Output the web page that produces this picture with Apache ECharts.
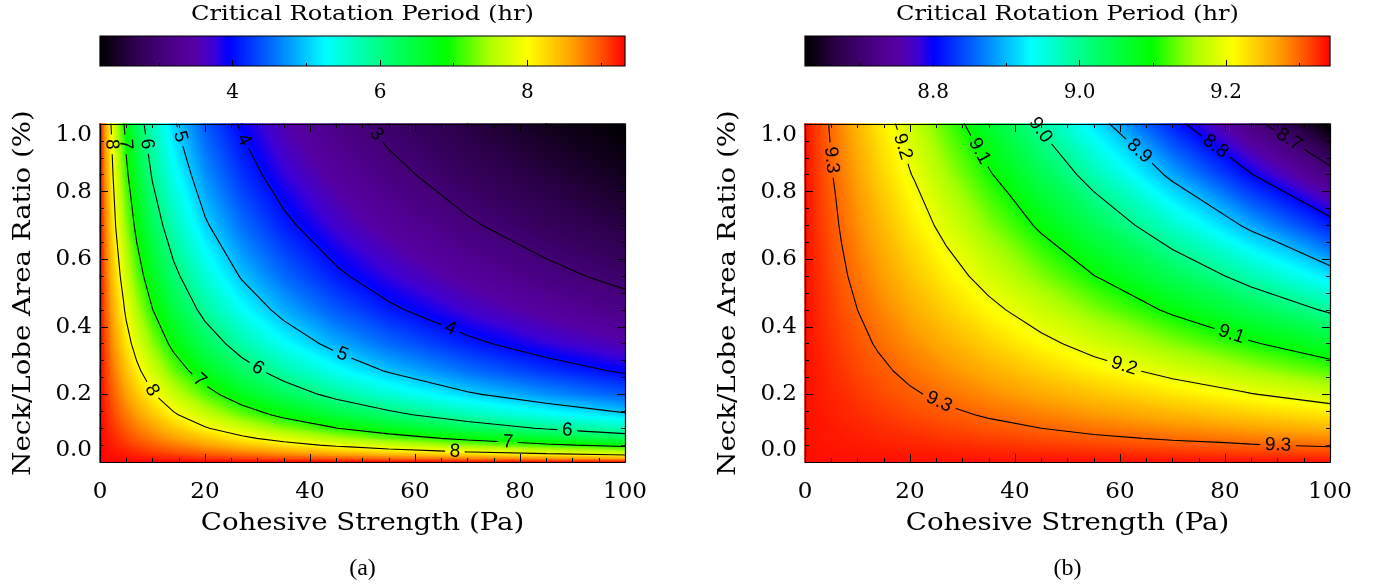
<!DOCTYPE html>
<html>
<head>
<meta charset="utf-8">
<script src="https://cdn.jsdelivr.net/npm/echarts@6/dist/echarts.min.js"></script>
<style>
html,body{margin:0;padding:0;background:#ffffff;}
#chart{width:1385px;height:587px;}
</style>
</head>
<body>
<div id="chart"></div>
<script>
// ---------------- data ----------------
// sample positions
const cohesion  = [0, 1, 2, 3, 5, 7, 10, 14, 20, 27, 35, 45, 55, 70, 85, 100];          // Pa
const areaRatio = [0, 0.01, 0.02, 0.03, 0.05, 0.07, 0.10, 0.14, 0.20, 0.27, 0.35, 0.45, 0.55, 0.70, 0.85, 1.00];

// panel (a): critical rotation period (hr); rows = areaRatio, columns = cohesion
const periodA = [
  [9.31,9.31,9.31,9.31,9.31,9.31,9.31,9.31,9.31,9.31,9.31,9.31,9.31,9.31,9.31,9.31],
  [9.31,9.30,9.29,9.29,9.27,9.25,9.23,9.20,9.15,9.10,9.04,8.97,8.90,8.80,8.70,8.61],
  [9.31,9.29,9.28,9.26,9.23,9.20,9.15,9.10,9.01,8.91,8.80,8.67,8.54,8.37,8.20,8.04],
  [9.31,9.29,9.26,9.24,9.19,9.15,9.08,8.99,8.87,8.73,8.58,8.40,8.23,7.99,7.78,7.58],
  [9.31,9.27,9.23,9.19,9.12,9.04,8.94,8.80,8.61,8.40,8.17,7.92,7.69,7.37,7.09,6.85],
  [9.31,9.25,9.20,9.15,9.04,8.94,8.80,8.62,8.37,8.10,7.82,7.51,7.24,6.88,6.57,6.29],
  [9.31,9.23,9.15,9.08,8.94,8.80,8.61,8.37,8.04,7.71,7.37,7.01,6.69,6.29,5.95,5.67],
  [9.31,9.20,9.10,8.99,8.80,8.62,8.37,8.06,7.66,7.26,6.88,6.47,6.13,5.70,5.36,5.06],
  [9.31,9.15,9.01,8.87,8.61,8.37,8.04,7.66,7.18,6.72,6.29,5.85,5.50,5.06,4.72,4.44],
  [9.31,9.10,8.91,8.73,8.40,8.10,7.71,7.26,6.72,6.22,5.77,5.32,4.96,4.54,4.21,3.94],
  [9.31,9.04,8.80,8.58,8.17,7.82,7.37,6.88,6.29,5.77,5.30,4.86,4.51,4.10,3.78,3.53],
  [9.31,8.97,8.67,8.40,7.92,7.51,7.01,6.47,5.85,5.32,4.86,4.42,4.08,3.69,3.40,3.17],
  [9.31,8.90,8.54,8.23,7.69,7.24,6.69,6.13,5.50,4.96,4.51,4.08,3.76,3.39,3.11,2.89],
  [9.31,8.80,8.37,7.99,7.37,6.88,6.29,5.70,5.06,4.54,4.10,3.69,3.39,3.05,2.79,2.59],
  [9.31,8.70,8.20,7.78,7.09,6.57,5.95,5.36,4.72,4.21,3.78,3.40,3.11,2.79,2.56,2.37],
  [9.31,8.61,8.04,7.58,6.85,6.29,5.67,5.06,4.44,3.94,3.53,3.17,2.89,2.59,2.37,2.20]
];

// panel (b)
const periodB = [
  [9.336,9.336,9.336,9.336,9.336,9.336,9.336,9.336,9.336,9.336,9.336,9.336,9.336,9.336,9.336,9.336],
  [9.336,9.336,9.336,9.336,9.336,9.335,9.335,9.335,9.334,9.334,9.333,9.332,9.332,9.330,9.329,9.328],
  [9.336,9.336,9.336,9.336,9.335,9.335,9.334,9.334,9.333,9.332,9.330,9.329,9.327,9.325,9.322,9.320],
  [9.336,9.336,9.336,9.335,9.335,9.334,9.334,9.333,9.331,9.330,9.328,9.325,9.323,9.319,9.315,9.312],
  [9.336,9.336,9.335,9.335,9.334,9.333,9.332,9.330,9.328,9.325,9.322,9.318,9.314,9.308,9.302,9.296],
  [9.336,9.335,9.335,9.334,9.333,9.332,9.330,9.328,9.325,9.321,9.316,9.311,9.305,9.297,9.288,9.280],
  [9.336,9.335,9.334,9.334,9.332,9.330,9.328,9.325,9.320,9.314,9.308,9.300,9.292,9.280,9.268,9.256],
  [9.336,9.335,9.334,9.333,9.330,9.328,9.325,9.320,9.313,9.306,9.297,9.286,9.274,9.258,9.241,9.225],
  [9.336,9.334,9.333,9.331,9.328,9.325,9.320,9.313,9.304,9.293,9.280,9.264,9.248,9.225,9.202,9.179],
  [9.336,9.334,9.332,9.330,9.325,9.321,9.314,9.306,9.293,9.278,9.261,9.239,9.218,9.187,9.156,9.125],
  [9.336,9.333,9.330,9.328,9.322,9.316,9.308,9.297,9.280,9.261,9.239,9.211,9.184,9.144,9.105,9.066],
  [9.336,9.332,9.329,9.325,9.318,9.311,9.300,9.286,9.264,9.239,9.211,9.177,9.142,9.092,9.042,8.993],
  [9.336,9.332,9.327,9.323,9.314,9.305,9.292,9.274,9.248,9.218,9.184,9.142,9.101,9.040,8.980,8.921],
  [9.336,9.330,9.325,9.319,9.308,9.297,9.280,9.258,9.225,9.187,9.144,9.092,9.040,8.964,8.890,8.817],
  [9.336,9.329,9.322,9.315,9.302,9.288,9.268,9.241,9.202,9.156,9.105,9.042,8.980,8.890,8.802,8.717],
  [9.336,9.328,9.320,9.312,9.296,9.280,9.256,9.225,9.179,9.125,9.066,8.993,8.921,8.817,8.717,8.620]
];

// contour levels and label anchors [level, cohesion, areaRatio]
const levelsA = [3, 4, 5, 6, 7, 8];
const levelsB = [8.7, 8.8, 8.9, 9.0, 9.1, 9.2, 9.3];
const labelsA = [
  [8, 2.2, 0.94], [7, 5.1, 0.94], [6, 8.6, 0.94], [5, 14.7, 0.96], [4, 27, 0.95], [3, 52.4, 0.967],
  [8, 9.9, 0.212], [7, 19, 0.242], [6, 30, 0.277], [5, 46, 0.313], [4, 66.5, 0.387],
  [6, 89, 0.092], [7, 77.7, 0.056], [8, 67.6, 0.030]
];
const labelsB = [
  [9.3, 4.8, 0.893], [9.2, 18.7, 0.933], [9.1, 33, 0.918], [9.0, 42.9, 0.961],
  [8.9, 63.8, 0.922], [8.8, 78.1, 0.932], [8.7, 92.4, 0.958],
  [9.3, 25.7, 0.183], [9.2, 61, 0.295], [9.1, 81.3, 0.381], [9.3, 90.1, 0.049]
];

// colour bars
const cbarRangeA = [2.198, 9.327];
const cbarMajorA = [4, 6, 8];
const cbarMinorA = [3, 5, 7, 9];
const cbarRangeB = [8.625, 9.342];
const cbarMajorB = [8.8, 9.0, 9.2];
const cbarMinorB = [8.7, 8.9, 9.1, 9.3];

// axes ticks
const xTicks = [0, 20, 40, 60, 80, 100];
const yTicks = [0, 0.2, 0.4, 0.6, 0.8, 1.0];

// ---------------- styling ----------------
const CMAP = [
  [0.000, [0, 0, 0]], [0.060, [42, 0, 72]], [0.120, [70, 0, 124]], [0.180, [86, 0, 164]],
  [0.215, [62, 0, 212]], [0.245, [0, 0, 255]], [0.330, [0, 112, 255]], [0.430, [0, 255, 255]],
  [0.550, [0, 255, 112]], [0.660, [0, 255, 0]], [0.740, [168, 255, 0]], [0.815, [255, 255, 0]],
  [0.900, [255, 160, 0]], [0.955, [255, 80, 0]], [1.000, [255, 0, 0]]
];
function cmapT(t) {
  t = Math.max(0, Math.min(1, t));
  for (let k = 1; k < CMAP.length; k++) {
    if (t <= CMAP[k][0]) {
      const a = CMAP[k - 1], b = CMAP[k];
      const f = (t - a[0]) / (b[0] - a[0]);
      const c = a[1].map((x, i) => Math.round(x + f * (b[1][i] - x)));
      return 'rgb(' + c.join(',') + ')';
    }
  }
  return 'rgb(255,0,0)';
}
function colorOf(v, range) { return cmapT((v - range[0]) / (range[1] - range[0])); }

const SERIF = 'DejaVu Serif';
const LABEL_FONT_SIZE = 19;
const LABEL_FONT = LABEL_FONT_SIZE + 'px "Liberation Sans"';

// ---------------- mesh (smooth colour field) ----------------
function tri(a, b, c, va, vb, vc, range) {
  const e1x = b[0] - a[0], e1y = b[1] - a[1], e2x = c[0] - a[0], e2y = c[1] - a[1];
  const d1 = vb - va, d2 = vc - va;
  const det = e1x * e2y - e1y * e2x;
  const vmin = Math.min(va, vb, vc), vmax = Math.max(va, vb, vc);
  let fill;
  if (Math.abs(det) < 1e-9 || vmax - vmin < 1e-9) {
    fill = colorOf(va, range);
  } else {
    const gx = (d1 * e2y - d2 * e1y) / det, gy = (e1x * d2 - e2x * d1) / det;
    const g2 = gx * gx + gy * gy;
    if (g2 < 1e-14) { fill = colorOf(va, range); }
    else {
      const sx = a[0] + (vmin - va) * gx / g2, sy = a[1] + (vmin - va) * gy / g2;
      const ex = a[0] + (vmax - va) * gx / g2, ey = a[1] + (vmax - va) * gy / g2;
      const stops = [];
      const N = 10;
      for (let k = 0; k <= N; k++) {
        const v = vmin + (vmax - vmin) * k / N;
        stops.push({ offset: k / N, color: colorOf(v, range) });
      }
      fill = new echarts.graphic.LinearGradient(sx, sy, ex, ey, stops, true);
    }
  }
  return { type: 'polygon', shape: { points: [a, b, c] }, style: { fill: fill, stroke: fill, lineWidth: 1.5, lineJoin: 'round' }, silent: true };
}

function meshSeries(axisIdx, period, range) {
  const cells = [];
  for (let j = 0; j < areaRatio.length - 1; j++)
    for (let i = 0; i < cohesion.length - 1; i++)
      cells.push([cohesion[i], areaRatio[j], i, j]);
  return {
    type: 'custom', xAxisIndex: axisIdx, yAxisIndex: axisIdx, z: 2, silent: true, animation: false,
    data: cells,
    renderItem: function (params, api) {
      const i = api.value(2), j = api.value(3);
      const P = (ii, jj) => api.coord([cohesion[ii], areaRatio[jj]]);
      const p00 = P(i, j), p10 = P(i + 1, j), p01 = P(i, j + 1), p11 = P(i + 1, j + 1);
      const v00 = period[j][i], v10 = period[j][i + 1], v01 = period[j + 1][i], v11 = period[j + 1][i + 1];
      return { type: 'group', children: [
        tri(p00, p10, p01, v00, v10, v01, range),
        tri(p10, p11, p01, v10, v11, v01, range)
      ] };
    }
  };
}

// ---------------- contours ----------------
function contourSegs(period, L) {
  const segs = [];
  function triSeg(P, V) {
    const pts = [];
    for (let k = 0; k < 3; k++) {
      const a = k, b = (k + 1) % 3;
      const va = V[a] - L, vb = V[b] - L;
      if ((va < 0 && vb >= 0) || (va >= 0 && vb < 0)) {
        const t = va / (va - vb);
        pts.push([P[a][0] + t * (P[b][0] - P[a][0]), P[a][1] + t * (P[b][1] - P[a][1])]);
      }
    }
    if (pts.length === 2) segs.push(pts);
  }
  for (let j = 0; j < areaRatio.length - 1; j++) {
    for (let i = 0; i < cohesion.length - 1; i++) {
      const q00 = [cohesion[i], areaRatio[j]], q10 = [cohesion[i + 1], areaRatio[j]];
      const q01 = [cohesion[i], areaRatio[j + 1]], q11 = [cohesion[i + 1], areaRatio[j + 1]];
      const v00 = period[j][i], v10 = period[j][i + 1], v01 = period[j + 1][i], v11 = period[j + 1][i + 1];
      triSeg([q00, q10, q01], [v00, v10, v01]);
      triSeg([q10, q11, q01], [v10, v11, v01]);
    }
  }
  return segs;
}
function textW(s) { let w = 0; for (const ch of s) w += (ch === '.' ? 0.278 : 0.556) * LABEL_FONT_SIZE; return w; }
function cutPiece(seg, c, r, out) {
  const p = seg[0], q = seg[1];
  const dx = q[0] - p[0], dy = q[1] - p[1];
  const fx = p[0] - c[0], fy = p[1] - c[1];
  const a = dx * dx + dy * dy;
  if (a < 1e-12) { out.push(seg); return; }
  const b = 2 * (fx * dx + fy * dy), cc = fx * fx + fy * fy - r * r;
  const disc = b * b - 4 * a * cc;
  if (disc <= 0) { out.push(seg); return; }
  const sq = Math.sqrt(disc);
  const t1 = (-b - sq) / (2 * a), t2 = (-b + sq) / (2 * a);
  if (t2 <= 0 || t1 >= 1) { out.push(seg); return; }
  const lp = t => [p[0] + t * dx, p[1] + t * dy];
  if (t1 > 0) out.push([p, lp(t1)]);
  if (t2 < 1) out.push([lp(t2), q]);
}
function contourSeries(axisIdx, period, levels, labels, fmt) {
  const segsByLevel = levels.map(L => contourSegs(period, L));
  return {
    type: 'custom', xAxisIndex: axisIdx, yAxisIndex: axisIdx, z: 3, silent: true, animation: false,
    data: levels.map((L, k) => [k, L]),
    renderItem: function (params, api) {
      const k = api.value(0);
      const L = levels[k];
      const segs = segsByLevel[k].map(s => [api.coord(s[0]), api.coord(s[1])]);
      const txt = fmt(L);
      const r = textW(txt) / 2 + 5;
      const children = [];
      const cuts = [];
      labels.filter(lb => Math.abs(lb[0] - L) < 1e-6).forEach(lb => {
        const q = api.coord([lb[1], lb[2]]);
        let best = null, bd = Infinity;
        segs.forEach(s => {
          const a = s[0], b = s[1];
          const dx = b[0] - a[0], dy = b[1] - a[1];
          const l2 = dx * dx + dy * dy;
          if (l2 < 1e-9) return;
          let t = ((q[0] - a[0]) * dx + (q[1] - a[1]) * dy) / l2;
          t = Math.max(0, Math.min(1, t));
          const px = a[0] + t * dx, py = a[1] + t * dy;
          const d = (px - q[0]) * (px - q[0]) + (py - q[1]) * (py - q[1]);
          if (d < bd) { bd = d; best = { x: px, y: py, dx: dx, dy: dy }; }
        });
        if (!best) return;
        let tx = best.dx, ty = best.dy;
        if (tx < 0 || (Math.abs(tx) < 1e-6 && ty < 0)) { tx = -tx; ty = -ty; }
        const ang = -Math.atan2(ty, tx);
        cuts.push([best.x, best.y]);
        children.push({
          type: 'text', x: best.x, y: best.y, rotation: ang, z2: 5,
          style: { text: txt, font: LABEL_FONT, fill: '#000', align: 'center', verticalAlign: 'middle', textAlign: 'center', textVerticalAlign: 'middle' }
        });
      });
      let path = '';
      segs.forEach(s => {
        let pieces = [s];
        cuts.forEach(c => { const np = []; pieces.forEach(p => cutPiece(p, c, r, np)); pieces = np; });
        pieces.forEach(p => {
          path += 'M' + p[0][0].toFixed(2) + ' ' + p[0][1].toFixed(2) + 'L' + p[1][0].toFixed(2) + ' ' + p[1][1].toFixed(2);
        });
      });
      if (path) children.unshift({ type: 'path', shape: { pathData: path }, style: { fill: 'none', stroke: '#000', lineWidth: 1.1, lineCap: 'round', lineJoin: 'round' } });
      return { type: 'group', children: children };
    }
  };
}

// ---------------- colour bar ----------------
function cbarSeries(xIdx, yIdx, range) {
  return {
    type: 'custom', xAxisIndex: xIdx, yAxisIndex: yIdx, z: 2, silent: true, animation: false,
    data: [[range[0], 0, range[1], 1]],
    renderItem: function (params, api) {
      const p0 = api.coord([api.value(0), api.value(1)]);
      const p1 = api.coord([api.value(2), api.value(3)]);
      const stops = CMAP.map(s => ({ offset: s[0], color: 'rgb(' + s[1].join(',') + ')' }));
      const grad = new echarts.graphic.LinearGradient(0, 0, 1, 0, stops, false);
      const rect = { x: p0[0], y: p1[1], width: p1[0] - p0[0], height: p0[1] - p1[1] };
      return { type: 'group', children: [
        { type: 'rect', shape: rect, style: { fill: grad } },
        { type: 'rect', shape: rect, style: { fill: 'none', stroke: '#000', lineWidth: 1.2 } }
      ] };
    }
  };
}

// ---------------- axes ----------------
const lineBlack = { color: '#000', width: 1.2 };
function xAx(gridIndex, pos, showLabel) {
  return {
    type: 'value', gridIndex: gridIndex, position: pos, min: xTicks[0], max: xTicks[xTicks.length - 1],
    interval: xTicks[1] - xTicks[0], z: 10,
    axisLine: { show: true, onZero: false, lineStyle: lineBlack },
    axisTick: { show: true, inside: true, length: 8, lineStyle: { color: '#000', width: 1 } },
    minorTick: { show: true, splitNumber: 4, length: 4, lineStyle: { color: '#000', width: 1 } },
    splitLine: { show: false }, minorSplitLine: { show: false },
    axisLabel: { show: showLabel, margin: 19, fontFamily: SERIF, fontSize: 23, color: '#000', showMinLabel: true, showMaxLabel: true }
  };
}
function yAx(gridIndex, pos, showLabel) {
  return {
    type: 'value', gridIndex: gridIndex, position: pos, min: yTicks[0], max: yTicks[yTicks.length - 1],
    interval: yTicks[1] - yTicks[0], z: 10,
    axisLine: { show: true, onZero: false, lineStyle: lineBlack },
    axisTick: { show: true, inside: true, length: 8, lineStyle: { color: '#000', width: 1 } },
    minorTick: { show: true, splitNumber: 4, length: 4, lineStyle: { color: '#000', width: 1 } },
    splitLine: { show: false }, minorSplitLine: { show: false },
    axisLabel: {
      show: showLabel, margin: 8, fontFamily: SERIF, fontSize: 23, color: '#000',
      showMinLabel: true, showMaxLabel: true,
      verticalAlignMinLabel: 'bottom', verticalAlignMaxLabel: 'top',
      formatter: v => v.toFixed(1)
    }
  };
}
function cbAx(gridIndex, range, values, major, fmt) {
  return {
    type: 'value', gridIndex: gridIndex, position: 'bottom', min: range[0], max: range[1], z: 10,
    axisLine: { show: false }, splitLine: { show: false },
    axisTick: { show: true, inside: true, length: major ? 6 : 3, customValues: values, lineStyle: { color: '#000', width: 1 } },
    axisLabel: { show: major, customValues: values, margin: 17, fontFamily: SERIF, fontSize: 20, color: '#000', formatter: fmt }
  };
}
function hiddenY(gridIndex) {
  return { type: 'value', gridIndex: gridIndex, min: 0, max: 1, show: false, splitLine: { show: false } };
}

// ---------------- texts ----------------
function txt(x, y, text, size, opts) {
  opts = opts || {};
  return {
    type: 'text', x: x, y: y, rotation: opts.rot || 0, scaleX: opts.sx || 1, z: 20,
    style: {
      text: text, font: (opts.weight || 'normal') + ' ' + size + 'px "' + (opts.family || SERIF) + '"', fill: '#000',
      align: 'center', verticalAlign: 'middle', textAlign: 'center', textVerticalAlign: 'middle'
    }
  };
}

const option = {
  animation: false,
  backgroundColor: '#ffffff',
  grid: [
    { left: 100, top: 124, width: 525, height: 338, show: false },
    { left: 805, top: 124, width: 525, height: 338, show: false },
    { left: 100, top: 36, width: 525, height: 30, show: false },
    { left: 805, top: 36, width: 525, height: 30, show: false }
  ],
  xAxis: [
    xAx(0, 'bottom', true), xAx(0, 'top', false),
    xAx(1, 'bottom', true), xAx(1, 'top', false),
    cbAx(2, cbarRangeA, cbarMajorA, true, v => String(Math.round(v))),
    cbAx(2, cbarRangeA, cbarMinorA, false),
    cbAx(3, cbarRangeB, cbarMajorB, true, v => v.toFixed(1)),
    cbAx(3, cbarRangeB, cbarMinorB, false)
  ],
  yAxis: [
    yAx(0, 'left', true), yAx(0, 'right', false),
    yAx(1, 'left', true), yAx(1, 'right', false),
    hiddenY(2), hiddenY(3)
  ],
  series: [
    meshSeries(0, periodA, cbarRangeA),
    contourSeries(0, periodA, levelsA, labelsA, L => String(L)),
    meshSeries(2, periodB, cbarRangeB),
    contourSeries(2, periodB, levelsB, labelsB, L => L.toFixed(1)),
    cbarSeries(4, 4, cbarRangeA),
    cbarSeries(6, 5, cbarRangeB)
  ],
  graphic: [
    txt(362.5, 15, 'Critical Rotation Period (hr)', 21, { sx: 1.15 }),
    txt(1067.5, 15, 'Critical Rotation Period (hr)', 21, { sx: 1.15 }),
    txt(362.5, 524, 'Cohesive Strength (Pa)', 24, { sx: 1.15 }),
    txt(1067.5, 524, 'Cohesive Strength (Pa)', 24, { sx: 1.15 }),
    txt(24, 293, 'Neck/Lobe Area Ratio (%)', 24, { sx: 1.15, rot: Math.PI / 2 }),
    txt(729, 293, 'Neck/Lobe Area Ratio (%)', 24, { sx: 1.15, rot: Math.PI / 2 }),
    txt(362.5, 569, '(a)', 24, { family: 'Liberation Serif' }),
    txt(1067.5, 569, '(b)', 24, { family: 'Liberation Serif' })
  ]
};

const chart = echarts.init(document.getElementById('chart'), null, { renderer: 'canvas', width: 1385, height: 587 });
chart.setOption(option);
</script>
</body>
</html>
